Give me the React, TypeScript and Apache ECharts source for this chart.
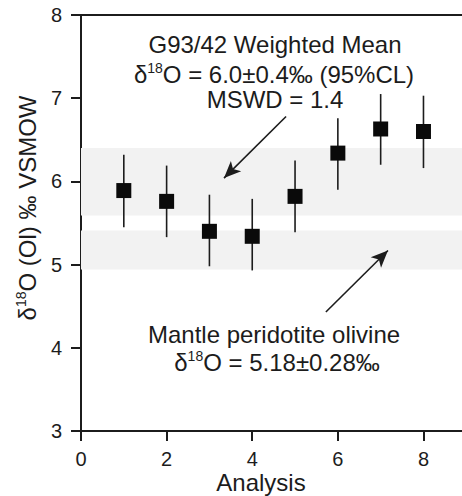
import React, { useEffect, useRef } from "react";
import * as echarts from "echarts";

const analyses = [1, 2, 3, 4, 5, 6, 7, 8];
const means = [5.89, 5.76, 5.4, 5.34, 5.82, 6.34, 6.63, 6.6];
const errLow = [5.45, 5.33, 4.98, 4.93, 5.39, 5.9, 6.2, 6.16];
const errHigh = [6.32, 6.19, 5.84, 5.79, 6.25, 6.76, 7.05, 7.03];
const weightedBand = [5.59, 6.4];
const mantleBand = [4.94, 5.41];
const arrowWeighted = [[4.79, 6.78], [3.34, 6.04]];
const arrowMantle = [[5.72, 4.43], [7.17, 5.17]];
const yTicks = [3, 4, 5, 6, 7, 8];
const xTicks = [0, 2, 4, 6, 8];

const FONT = "'Liberation Sans', Arial, sans-serif";
const INK = "#1c1c1c";

export default function App() {
  const ref = useRef<HTMLDivElement>(null);
  useEffect(() => {
    document.body.style.margin = "0";
    if (!ref.current) return;
    const chart = echarts.init(ref.current, null, { renderer: "svg" });
    const supRich = {
      sup: { fontSize: 14, lineHeight: 14, verticalAlign: "top", fontFamily: FONT, fill: INK },
    };
    const bigText = (x: number, y: number, text: string, rotation = 0) => ({
      type: "text",
      x,
      y,
      rotation,
      style: {
        text,
        fontSize: 24,
        fontFamily: FONT,
        fill: INK,
        align: "center",
        verticalAlign: "middle",
        lineHeight: 26,
        rich: supRich,
      },
    });
    const option: any = {
      animation: false,
      grid: { left: 81, top: 15, right: 0, bottom: 65 },
      xAxis: [
        {
          type: "value",
          min: 0,
          max: 8.9,
          interval: 2,
          axisLine: { show: true, onZero: false, lineStyle: { color: INK, width: 2 } },
          axisTick: { show: true, inside: false, length: 10, lineStyle: { color: INK, width: 2 } },
          axisLabel: {
            fontSize: 20,
            fontFamily: FONT,
            color: INK,
            margin: 18,
            showMaxLabel: false,
            formatter: (v: number) => (xTicks.includes(v) ? String(v) : ""),
          },
          splitLine: { show: false },
        },
        {
          type: "value",
          position: "top",
          min: 0,
          max: 8.9,
          axisLine: { show: true, onZero: false, lineStyle: { color: INK, width: 2 } },
          axisTick: { show: false },
          axisLabel: { show: false },
          splitLine: { show: false },
        },
      ],
      yAxis: {
        type: "value",
        min: 3,
        max: 8,
        interval: 1,
        axisLine: { show: true, onZero: false, lineStyle: { color: INK, width: 2 } },
        axisTick: { show: true, inside: false, length: 10, lineStyle: { color: INK, width: 2 } },
        axisLabel: {
          fontSize: 20,
          fontFamily: FONT,
          color: INK,
          margin: 19,
          formatter: (v: number) => (yTicks.includes(v) ? String(v) : ""),
        },
        splitLine: { show: false },
      },
      series: [
        {
          type: "custom",
          z: 3,
          data: analyses.map((x, i) => [x, errLow[i], errHigh[i]]),
          renderItem: (params: any, api: any) => {
            const p1 = api.coord([api.value(0), api.value(1)]);
            const p2 = api.coord([api.value(0), api.value(2)]);
            return {
              type: "line",
              shape: { x1: p1[0], y1: p1[1], x2: p2[0], y2: p2[1] },
              style: { stroke: INK, lineWidth: 1.6 },
            };
          },
          markArea: {
            silent: true,
            itemStyle: { color: "#f2f2f2" },
            data: [
              [{ yAxis: weightedBand[0] }, { yAxis: weightedBand[1] }],
              [{ yAxis: mantleBand[0] }, { yAxis: mantleBand[1] }],
            ],
          },
          markLine: {
            silent: true,
            symbol: ["none", "arrow"],
            symbolSize: [11, 17],
            label: { show: false },
            lineStyle: { color: INK, width: 1.6, type: "solid" },
            data: [
              [{ coord: arrowWeighted[0] }, { coord: arrowWeighted[1] }],
              [{ coord: arrowMantle[0] }, { coord: arrowMantle[1] }],
            ],
          },
        },
        {
          type: "scatter",
          z: 4,
          symbol: "rect",
          symbolSize: 15,
          itemStyle: { color: "#0a0a0a", opacity: 1 },
          data: analyses.map((x, i) => [x, means[i]]),
        },
      ],
      graphic: [
        bigText(275, 44, "G93/42 Weighted Mean"),
        bigText(274, 74, "δ{sup|18}O = 6.0±0.4‰ (95%CL)"),
        bigText(275, 99, "MSWD = 1.4"),
        bigText(274, 334, "Mantle peridotite olivine"),
        bigText(277, 362, "δ{sup|18}O = 5.18±0.28‰"),
        bigText(261, 482, "Analysis"),
        bigText(27, 208, "δ{sup|18}O (Ol) ‰ VSMOW", Math.PI / 2),
      ],
    };
    chart.setOption(option);
    return () => chart.dispose();
  }, []);
  return <div ref={ref} style={{ width: 462, height: 496 }} />;
}
